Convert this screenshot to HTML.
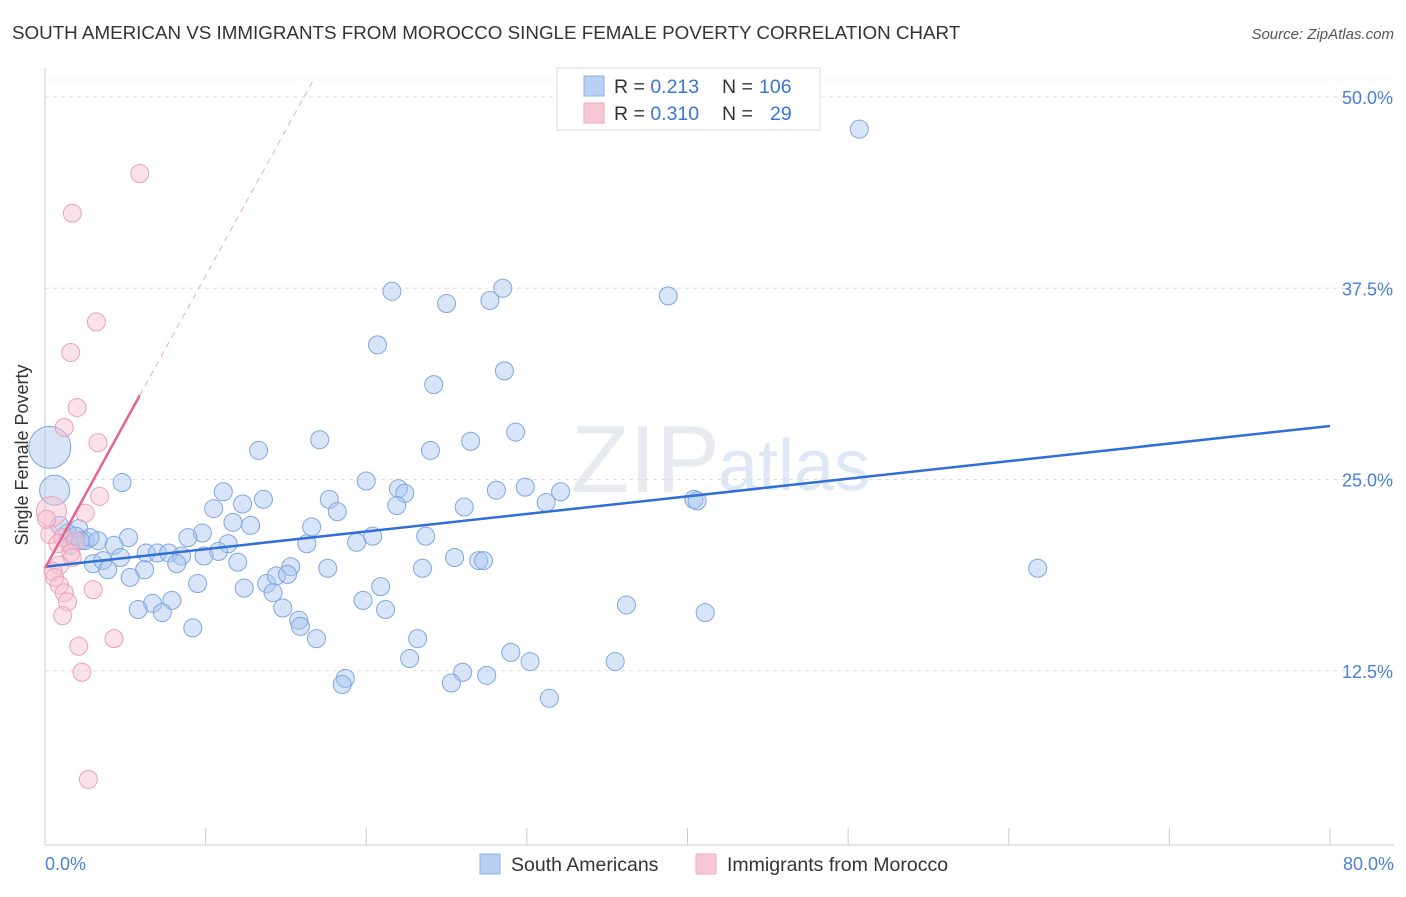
<!DOCTYPE html>
<html><head><meta charset="utf-8"><style>
body{margin:0;background:#fff;font-family:"Liberation Sans",sans-serif;}
svg text{font-family:"Liberation Sans",sans-serif;}
</style></head><body>
<svg width="1406" height="892" id="chart">
<text x="12" y="39" font-size="18.8" fill="#333">SOUTH AMERICAN VS IMMIGRANTS FROM MOROCCO SINGLE FEMALE POVERTY CORRELATION CHART</text>
<text x="1394" y="39" font-size="15" fill="#555" font-style="italic" text-anchor="end">Source: ZipAtlas.com</text>
<text x="720" y="492" font-size="96" fill="#ccd4e0" opacity="0.45" text-anchor="end" font-family="Liberation Serif">ZIP</text>
<text x="718" y="490" font-size="72" fill="#bcd0ee" opacity="0.5">atlas</text>
<g id="grid"></g>
<g id="axes"></g>
<g id="blue"></g>
<g id="pink"></g>
<g id="trends"></g>
<text x="28" y="455" font-size="18" fill="#333" text-anchor="middle" transform="rotate(-90 28 455)">Single Female Poverty</text>
<text x="45" y="870" font-size="18" fill="#4a7fd6">0.0%</text>
<text x="1394" y="870" font-size="18" fill="#4a7fd6" text-anchor="end">80.0%</text>
<g>
<rect x="557" y="68" width="263" height="62" fill="#fff" stroke="#ddd"/>
<rect x="584" y="76" width="20" height="20" fill="#b8d0f3" stroke="#8fb0e6"/>
<rect x="584" y="103" width="20" height="20" fill="#f9c8d6" stroke="#eea8bd"/>
<text x="614" y="93" font-size="19.5" fill="#333">R = <tspan fill="#3a74d6">0.213</tspan><tspan x="722">N = </tspan><tspan fill="#3a74d6" x="759">106</tspan></text>
<text x="614" y="120" font-size="19.5" fill="#333">R = <tspan fill="#3a74d6">0.310</tspan><tspan x="722">N = </tspan><tspan fill="#3a74d6" x="770">29</tspan></text>
</g>
<g>
<rect x="480" y="854" width="20" height="20" fill="#b8d0f3" stroke="#8fb0e6"/>
<text x="511" y="871" font-size="19.5" fill="#333">South Americans</text>
<rect x="696" y="854" width="20" height="20" fill="#f9c8d6" stroke="#eea8bd"/>
<text x="727" y="871" font-size="19.5" fill="#333">Immigrants from Morocco</text>
</g>
</svg>
<script>
const yTicks=[12.5,25,37.5,50];
const yTickLabels=["12.5%","25.0%","37.5%","50.0%"];
const xTicks=[0,10,20,30,40,50,60,70,80];
const blueX=[50.7,38.8,21.6,25.0,27.7,28.5,20.7,24.2,28.6,17.1,13.3,24.0,26.5,29.3,4.8,20.0,11.1,13.6,12.3,10.5,17.7,18.2,22.0,22.4,21.9,26.1,28.1,29.9,31.2,32.1,40.4,40.6,11.7,12.8,16.6,9.8,8.9,5.2,2.1,1.4,2.5,3.3,4.3,16.3,19.4,20.4,23.7,11.4,10.8,6.3,7.0,7.7,8.5,9.9,4.7,3.0,3.6,12.0,25.5,27.0,27.3,15.3,17.6,23.5,61.8,6.2,8.2,3.9,5.3,9.5,13.8,14.4,15.1,20.9,14.2,12.4,19.8,7.9,6.7,5.8,7.3,14.8,21.2,36.2,41.1,15.8,15.9,9.2,16.9,23.2,29.0,22.7,30.2,35.5,26.0,18.7,27.5,18.5,25.3,31.4,0.3,0.6,0.9,1.6,1.9,2.8,2.2];
const blueY=[47.9,37.0,37.3,36.5,36.7,37.5,33.8,31.2,32.1,27.6,26.9,26.9,27.5,28.1,24.8,24.9,24.2,23.7,23.4,23.1,23.7,22.9,24.4,24.1,23.3,23.2,24.3,24.5,23.5,24.2,23.7,23.6,22.2,22.0,21.9,21.5,21.2,21.2,21.8,21.5,21.0,21.0,20.7,20.8,20.9,21.3,21.3,20.8,20.3,20.2,20.2,20.2,20.0,20.0,19.9,19.5,19.7,19.6,19.9,19.7,19.7,19.3,19.2,19.2,19.2,19.1,19.5,19.1,18.6,18.2,18.2,18.7,18.8,18.0,17.6,17.9,17.1,17.1,16.9,16.5,16.3,16.6,16.5,16.8,16.3,15.8,15.4,15.3,14.6,14.6,13.7,13.3,13.1,13.1,12.4,12.0,12.2,11.6,11.7,10.7,27.1,24.3,22.0,20.7,21.3,21.2,21.0];
const blueBig=[100,101];
const pinkX=[5.9,1.7,3.2,1.6,2.0,1.2,3.3,3.4,2.5,0.4,0.3,1.1,1.9,0.8,1.6,1.7,0.9,0.5,0.6,0.9,1.2,1.4,3.0,1.1,4.3,2.1,2.3,2.7,0.1];
const pinkY=[45.0,42.4,35.3,33.3,29.7,28.4,27.4,23.9,22.8,22.9,21.4,21.2,21.0,20.8,20.2,19.9,19.4,19.0,18.6,18.1,17.6,17.0,17.8,16.1,14.6,14.1,12.4,5.4,22.4];
const pinkBig=[9];
const blueTrendX=[0,80];const blueTrendY=[19.3,28.5];
const pinkTrendX=[0,5.9,16.7];const pinkTrendY=[19.2,30.5,51.1];
const NS="http://www.w3.org/2000/svg";
const X=v=>45+v/80*1285;
const Y=v=>862-v*15.3;
function mk(tag,attrs,parent){const e=document.createElementNS(NS,tag);for(const k in attrs)e.setAttribute(k,attrs[k]);parent.appendChild(e);return e;}
const grid=document.getElementById('grid'),axes=document.getElementById('axes');
yTicks.forEach((t,i)=>{
 const l=mk('line',{x1:45,x2:1394,y1:Y(t),y2:Y(t),stroke:'#ddd','stroke-dasharray':'4,4'},grid);
 
 
 const tx=mk('text',{x:1393,y:Y(t)+7,'font-size':18,fill:'#4a7fd6','text-anchor':'end'},axes);
 tx.textContent=yTickLabels[i];
 
 
});
const topGrid=mk('line',{x1:45,x2:1394,y1:80,y2:80,stroke:'#eee','stroke-dasharray':'4,4'},grid);


const ya=mk('line',{x1:45,x2:45,y1:68,y2:845,stroke:'#ccc'},axes);


const xa=mk('line',{x1:45,x2:1394,y1:845,y2:845,stroke:'#ccc'},axes);


xTicks.forEach(t=>{
 const l=mk('line',{x1:X(t),x2:X(t),y1:828,y2:845,stroke:'#ccc'},axes);
 
 
});
function pts(xs,ys,big,g,fill,stroke,name){
 xs.forEach((x,i)=>{
  const r=big.includes(i)?(i===100?21:15):9;
  const c=mk('circle',{cx:X(x),cy:Y(ys[i]),r:r,fill:fill,stroke:stroke,'stroke-width':1,'fill-opacity':0.45},g);
  
  
 });
}
pts(blueX,blueY,blueBig,document.getElementById('blue'),'#a9c6f0','#7fa6e0','south-american-point');
pts(pinkX,pinkY,pinkBig,document.getElementById('pink'),'#f6bfd0','#eba1b8','morocco-point');
const tr=document.getElementById('trends');
const bl=mk('line',{x1:X(blueTrendX[0]),y1:Y(blueTrendY[0]),x2:X(blueTrendX[1]),y2:Y(blueTrendY[1]),stroke:'#2f6fd6','stroke-width':2.5},tr);


const pl=mk('line',{x1:X(pinkTrendX[0]),y1:Y(pinkTrendY[0]),x2:X(pinkTrendX[1]),y2:Y(pinkTrendY[1]),stroke:'#e8628e','stroke-width':2.5},tr);


const pd=mk('line',{x1:X(pinkTrendX[1]),y1:Y(pinkTrendY[1]),x2:X(pinkTrendX[2]),y2:Y(pinkTrendY[2]),stroke:'#eeaac0','stroke-width':1,'stroke-dasharray':'6,5'},tr);


</script>
</body></html>
